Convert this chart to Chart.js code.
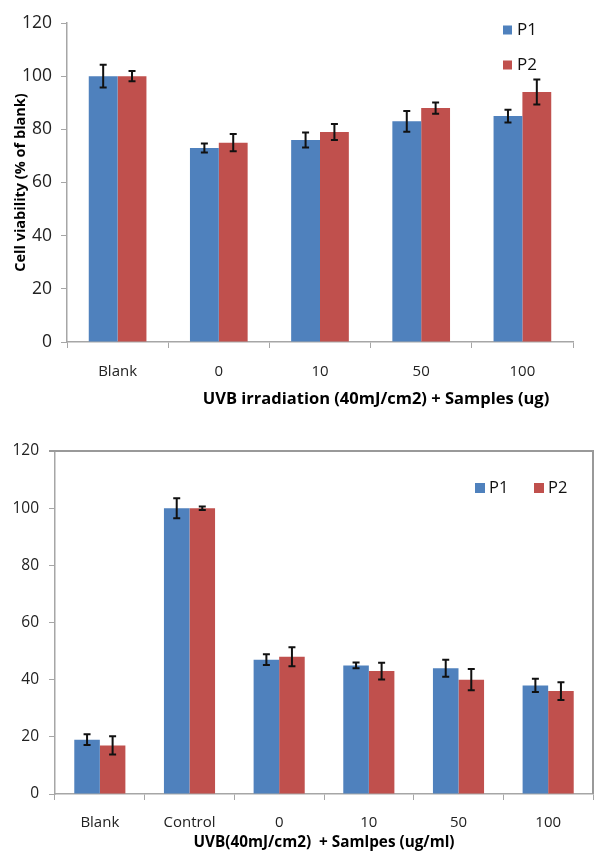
<!DOCTYPE html>
<html><head><meta charset="utf-8">
<script src="https://cdn.jsdelivr.net/npm/chart.js@4"></script>
<style>
html,body{margin:0;padding:0;background:#fff;}
canvas{position:absolute;left:0;}
#c1{top:0;}
#c2{top:420px;}
</style></head><body>
<canvas id="c1" width="605" height="420"></canvas>
<canvas id="c2" width="605" height="439"></canvas>
<script>
// ---- data ----
const topCategories = ['Blank', '0', '10', '50', '100'];
const topP1 = [100, 73, 76, 83, 85];
const topP1Err = [4.3, 1.7, 2.8, 3.9, 2.4];
const topP2 = [100, 75, 79, 88, 94];
const topP2Err = [1.9, 3.2, 3.0, 2.1, 4.7];

const bottomCategories = ['Blank', 'Control', '0', '10', '50', '100'];
const bottomP1 = [19, 100, 47, 45, 44, 38];
const bottomP1Err = [1.9, 3.5, 1.9, 1.0, 3.0, 2.3];
const bottomP2 = [17, 100, 48, 43, 40, 36];
const bottomP2Err = [3.2, 0.6, 3.3, 2.9, 3.7, 3.1];

const seriesNames = ['P1', 'P2'];
const yTickValues = [0, 20, 40, 60, 80, 100, 120];

const topXTitle = 'UVB irradiation (40mJ/cm2) + Samples (ug)';
const topYTitle = 'Cell viability (% of blank)';
const bottomXTitle = 'UVB(40mJ/cm2)  + Samlpes (ug/ml)';

// ---- styles ----
const BLUE = '#4F81BD', RED = '#C0504D', AXIS = '#a6a6a6';
const FONT = '"Open Sans", "Noto Sans", sans-serif';

// ---- plugins ----
const errorBars = {
  id: 'errorBars',
  afterDatasetsDraw(chart, args, opts) {
    const ctx = chart.ctx, y = chart.scales.y;
    chart.data.datasets.forEach((ds, i) => {
      const meta = chart.getDatasetMeta(i);
      meta.data.forEach((bar, j) => {
        const v = ds.data[j], e = ds.errors[j];
        const yt = y.getPixelForValue(v + e), yb = y.getPixelForValue(v - e);
        const c = opts.cap;
        ctx.save();
        ctx.strokeStyle = opts.color; ctx.lineWidth = opts.width;
        ctx.beginPath();
        ctx.moveTo(bar.x, yt); ctx.lineTo(bar.x, yb);
        ctx.moveTo(bar.x - c, yt); ctx.lineTo(bar.x + c, yt);
        ctx.moveTo(bar.x - c, yb); ctx.lineTo(bar.x + c, yb);
        ctx.stroke();
        ctx.restore();
      });
    });
  }
};

const overlayLegend = {
  id: 'overlayLegend',
  afterDraw(chart, args, opts) {
    const ctx = chart.ctx;
    ctx.save();
    ctx.font = opts.font;
    ctx.textBaseline = 'middle';
    let x = opts.x, y = opts.y;
    chart.data.datasets.forEach((ds) => {
      ctx.fillStyle = ds.backgroundColor;
      ctx.fillRect(x, y - opts.box / 2, opts.box, opts.box);
      ctx.fillStyle = '#111';
      ctx.fillText(ds.label, x + opts.box + opts.textGap, y);
      if (opts.vertical) y += opts.step; else x += opts.step;
    });
    ctx.restore();
  }
};

const extraText = {
  id: 'extraText',
  afterDraw(chart, args, opts) {
    if (!opts.text) return;
    const ctx = chart.ctx, a = chart.chartArea;
    ctx.save();
    ctx.font = opts.font;
    ctx.fillStyle = '#000';
    ctx.textAlign = 'center';
    ctx.textBaseline = 'middle';
    ctx.fillText(opts.text, (a.left + a.right) / 2 + opts.dx, opts.y);
    ctx.restore();
  }
};

const frame = {
  id: 'frame',
  afterDraw(chart, args, opts) {
    if (!opts.show) return;
    const ctx = chart.ctx, a = chart.chartArea;
    ctx.save();
    ctx.strokeStyle = opts.color; ctx.lineWidth = opts.width;
    ctx.beginPath();
    ctx.moveTo(a.left - 6, a.top); ctx.lineTo(a.right, a.top); ctx.lineTo(a.right, a.bottom);
    ctx.stroke();
    ctx.restore();
  }
};

function build(canvas, cfg) {
  return new Chart(canvas, {
    type: 'bar',
    data: {
      labels: cfg.categories,
      datasets: [
        { label: seriesNames[0], data: cfg.p1, errors: cfg.p1Err, backgroundColor: BLUE },
        { label: seriesNames[1], data: cfg.p2, errors: cfg.p2Err, backgroundColor: RED }
      ]
    },
    plugins: [errorBars, overlayLegend, extraText, frame],
    options: {
      responsive: false,
      animation: false,
      layout: { padding: cfg.padding },
      datasets: { bar: { categoryPercentage: 0.57, barPercentage: 1.0, borderWidth: 0 } },
      scales: {
        x: {
          afterFit: (s) => { s.height = cfg.xHeight; },
          grid: { offset: true, drawOnChartArea: false, drawTicks: true, tickLength: 6, color: AXIS },
          border: { display: true, color: AXIS, width: 1.5 },
          ticks: { font: { family: FONT, size: 15 }, color: '#222', padding: cfg.xTickPad },
          title: cfg.xTitle
        },
        y: {
          min: 0, max: 120,
          afterFit: (s) => { s.width = cfg.yWidth; },
          afterBuildTicks: (s) => { s.ticks = yTickValues.map(v => ({ value: v })); },
          grid: { drawOnChartArea: false, drawTicks: true, tickLength: 6, color: AXIS },
          border: { display: true, color: AXIS, width: 1.5 },
          ticks: { font: { family: FONT, size: cfg.yTickSize }, color: '#222', padding: cfg.yTickPad },
          title: cfg.yTitle
        }
      },
      plugins: {
        legend: { display: false },
        tooltip: { enabled: false },
        errorBars: { color: '#111', width: 2, cap: 3.5 },
        overlayLegend: cfg.legend,
        extraText: cfg.extraText,
        frame: cfg.frame
      }
    }
  });
}

build(document.getElementById('c1'), {
  categories: topCategories, p1: topP1, p1Err: topP1Err, p2: topP2, p2Err: topP2Err,
  padding: { left: 0, top: 23, right: 32, bottom: 0 },
  xHeight: 78, yWidth: 67, xTickPad: 15, yTickPad: 9, yTickSize: 17.5,
  xTitle: { display: false },
  yTitle: { display: true, text: topYTitle, color: '#000', font: { family: FONT, size: 14.5, weight: 'bold' }, padding: { top: 12, bottom: 0 } },
  legend: { x: 503, y: 30, box: 9, textGap: 5, step: 35, vertical: true, font: '17px ' + FONT },
  extraText: { text: topXTitle, dx: 56, y: 399, font: 'bold 16.5px ' + FONT },
  frame: { show: false }
});

build(document.getElementById('c2'), {
  categories: bottomCategories, p1: bottomP1, p1Err: bottomP1Err, p2: bottomP2, p2Err: bottomP2Err,
  padding: { left: 0, top: 31, right: 12, bottom: 0 },
  xHeight: 65, yWidth: 55, xTickPad: 14, yTickPad: 10, yTickSize: 15.5,
  xTitle: { display: true, text: bottomXTitle, color: '#000', font: { family: FONT, size: 15.3, weight: 'bold' }, padding: { top: 0, bottom: 7 } },
  yTitle: { display: false },
  legend: { x: 475, y: 68, box: 10, textGap: 4, step: 59, vertical: false, font: '16.5px ' + FONT },
  extraText: { text: '' },
  frame: { show: true, color: '#999', width: 2 }
});
</script>
</body></html>
